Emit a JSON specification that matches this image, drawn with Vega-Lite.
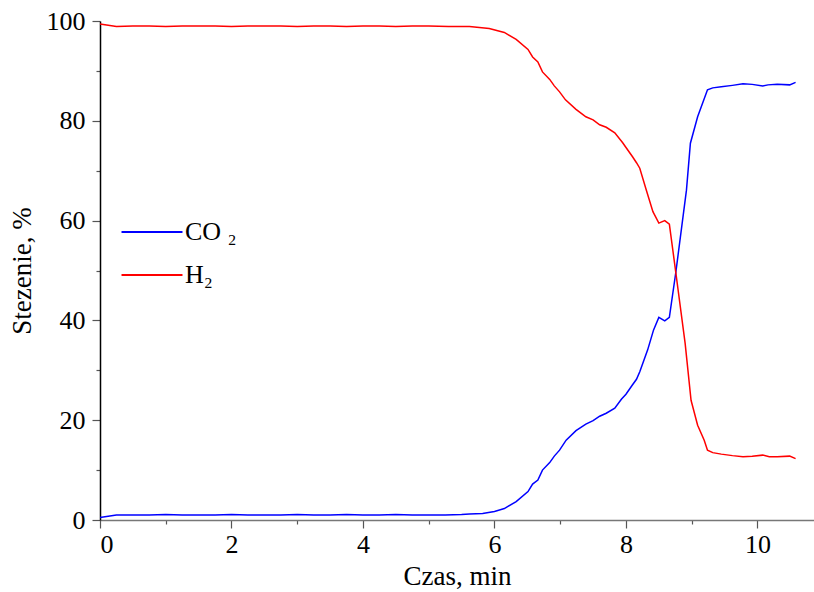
{
  "$schema": "https://vega.github.io/schema/vega-lite/v6.json",
  "width": 714,
  "height": 499,
  "autosize": {"type": "none"},
  "padding": {"left": 100, "top": 21, "right": 0, "bottom": 72},
  "background": "white",
  "config": {
    "view": {"stroke": null},
    "font": "Liberation Serif"
  },
  "datasets": {
    "series": [
      {"t": 0, "gas": "CO2", "v": 0.5}, {"t": 0.25, "gas": "CO2", "v": 1.0}, {"t": 0.5, "gas": "CO2", "v": 1.0}, {"t": 0.75, "gas": "CO2", "v": 1.0}, {"t": 1.0, "gas": "CO2", "v": 1.1}, {"t": 1.25, "gas": "CO2", "v": 1.0}, {"t": 1.5, "gas": "CO2", "v": 1.0}, {"t": 1.75, "gas": "CO2", "v": 1.0}, {"t": 2.0, "gas": "CO2", "v": 1.1}, {"t": 2.25, "gas": "CO2", "v": 1.0}, {"t": 2.5, "gas": "CO2", "v": 1.0}, {"t": 2.75, "gas": "CO2", "v": 1.0}, {"t": 3.0, "gas": "CO2", "v": 1.1}, {"t": 3.25, "gas": "CO2", "v": 1.0}, {"t": 3.5, "gas": "CO2", "v": 1.0}, {"t": 3.75, "gas": "CO2", "v": 1.1}, {"t": 4.0, "gas": "CO2", "v": 1.0}, {"t": 4.25, "gas": "CO2", "v": 1.0}, {"t": 4.5, "gas": "CO2", "v": 1.1}, {"t": 4.75, "gas": "CO2", "v": 1.0}, {"t": 5.0, "gas": "CO2", "v": 1.0}, {"t": 5.25, "gas": "CO2", "v": 1.0}, {"t": 5.5, "gas": "CO2", "v": 1.1}, {"t": 5.62, "gas": "CO2", "v": 1.2}, {"t": 5.82, "gas": "CO2", "v": 1.3}, {"t": 6.0, "gas": "CO2", "v": 1.7}, {"t": 6.15, "gas": "CO2", "v": 2.3}, {"t": 6.33, "gas": "CO2", "v": 3.7}, {"t": 6.51, "gas": "CO2", "v": 5.7}, {"t": 6.58, "gas": "CO2", "v": 7.2}, {"t": 6.66, "gas": "CO2", "v": 8.0}, {"t": 6.73, "gas": "CO2", "v": 10.0}, {"t": 6.84, "gas": "CO2", "v": 11.5}, {"t": 6.91, "gas": "CO2", "v": 12.8}, {"t": 6.99, "gas": "CO2", "v": 14.0}, {"t": 7.09, "gas": "CO2", "v": 16.0}, {"t": 7.24, "gas": "CO2", "v": 17.9}, {"t": 7.39, "gas": "CO2", "v": 19.2}, {"t": 7.5, "gas": "CO2", "v": 19.9}, {"t": 7.6, "gas": "CO2", "v": 20.8}, {"t": 7.7, "gas": "CO2", "v": 21.4}, {"t": 7.83, "gas": "CO2", "v": 22.4}, {"t": 7.93, "gas": "CO2", "v": 24.2}, {"t": 8.0, "gas": "CO2", "v": 25.2}, {"t": 8.1, "gas": "CO2", "v": 27.1}, {"t": 8.16, "gas": "CO2", "v": 28.2}, {"t": 8.21, "gas": "CO2", "v": 29.7}, {"t": 8.33, "gas": "CO2", "v": 34.1}, {"t": 8.42, "gas": "CO2", "v": 38.1}, {"t": 8.5, "gas": "CO2", "v": 40.6}, {"t": 8.59, "gas": "CO2", "v": 39.9}, {"t": 8.66, "gas": "CO2", "v": 40.6}, {"t": 8.76, "gas": "CO2", "v": 49.8}, {"t": 8.92, "gas": "CO2", "v": 66.1}, {"t": 8.98, "gas": "CO2", "v": 75.5}, {"t": 9.09, "gas": "CO2", "v": 80.8}, {"t": 9.24, "gas": "CO2", "v": 86.2}, {"t": 9.32, "gas": "CO2", "v": 86.6}, {"t": 9.45, "gas": "CO2", "v": 86.8}, {"t": 9.62, "gas": "CO2", "v": 87.1}, {"t": 9.78, "gas": "CO2", "v": 87.4}, {"t": 9.92, "gas": "CO2", "v": 87.3}, {"t": 10.08, "gas": "CO2", "v": 87.0}, {"t": 10.16, "gas": "CO2", "v": 87.2}, {"t": 10.3, "gas": "CO2", "v": 87.3}, {"t": 10.49, "gas": "CO2", "v": 87.2}, {"t": 10.58, "gas": "CO2", "v": 87.7},
      {"t": 0, "gas": "H2", "v": 99.4}, {"t": 0.25, "gas": "H2", "v": 98.9}, {"t": 0.5, "gas": "H2", "v": 99.0}, {"t": 0.75, "gas": "H2", "v": 99.0}, {"t": 1.0, "gas": "H2", "v": 98.9}, {"t": 1.25, "gas": "H2", "v": 99.0}, {"t": 1.5, "gas": "H2", "v": 99.0}, {"t": 1.75, "gas": "H2", "v": 99.0}, {"t": 2.0, "gas": "H2", "v": 98.9}, {"t": 2.25, "gas": "H2", "v": 99.0}, {"t": 2.5, "gas": "H2", "v": 99.0}, {"t": 2.75, "gas": "H2", "v": 99.0}, {"t": 3.0, "gas": "H2", "v": 98.9}, {"t": 3.25, "gas": "H2", "v": 99.0}, {"t": 3.5, "gas": "H2", "v": 99.0}, {"t": 3.75, "gas": "H2", "v": 98.9}, {"t": 4.0, "gas": "H2", "v": 99.0}, {"t": 4.25, "gas": "H2", "v": 99.0}, {"t": 4.5, "gas": "H2", "v": 98.9}, {"t": 4.75, "gas": "H2", "v": 99.0}, {"t": 5.0, "gas": "H2", "v": 99.0}, {"t": 5.3, "gas": "H2", "v": 98.9}, {"t": 5.62, "gas": "H2", "v": 98.9}, {"t": 5.92, "gas": "H2", "v": 98.5}, {"t": 6.15, "gas": "H2", "v": 97.7}, {"t": 6.33, "gas": "H2", "v": 96.3}, {"t": 6.51, "gas": "H2", "v": 94.3}, {"t": 6.58, "gas": "H2", "v": 92.8}, {"t": 6.66, "gas": "H2", "v": 91.8}, {"t": 6.73, "gas": "H2", "v": 89.8}, {"t": 6.84, "gas": "H2", "v": 88.3}, {"t": 6.91, "gas": "H2", "v": 87.0}, {"t": 6.99, "gas": "H2", "v": 85.8}, {"t": 7.08, "gas": "H2", "v": 84.2}, {"t": 7.24, "gas": "H2", "v": 82.3}, {"t": 7.39, "gas": "H2", "v": 80.8}, {"t": 7.5, "gas": "H2", "v": 80.2}, {"t": 7.6, "gas": "H2", "v": 79.2}, {"t": 7.7, "gas": "H2", "v": 78.7}, {"t": 7.83, "gas": "H2", "v": 77.6}, {"t": 7.95, "gas": "H2", "v": 75.6}, {"t": 8.03, "gas": "H2", "v": 74.1}, {"t": 8.1, "gas": "H2", "v": 72.8}, {"t": 8.16, "gas": "H2", "v": 71.6}, {"t": 8.21, "gas": "H2", "v": 70.5}, {"t": 8.31, "gas": "H2", "v": 66.1}, {"t": 8.41, "gas": "H2", "v": 61.8}, {"t": 8.5, "gas": "H2", "v": 59.5}, {"t": 8.59, "gas": "H2", "v": 60.0}, {"t": 8.66, "gas": "H2", "v": 59.3}, {"t": 8.76, "gas": "H2", "v": 49.4}, {"t": 8.9, "gas": "H2", "v": 35.4}, {"t": 8.99, "gas": "H2", "v": 24.0}, {"t": 9.09, "gas": "H2", "v": 19.0}, {"t": 9.19, "gas": "H2", "v": 16.0}, {"t": 9.24, "gas": "H2", "v": 14.0}, {"t": 9.32, "gas": "H2", "v": 13.5}, {"t": 9.45, "gas": "H2", "v": 13.2}, {"t": 9.62, "gas": "H2", "v": 12.9}, {"t": 9.78, "gas": "H2", "v": 12.7}, {"t": 9.92, "gas": "H2", "v": 12.8}, {"t": 10.08, "gas": "H2", "v": 13.0}, {"t": 10.18, "gas": "H2", "v": 12.7}, {"t": 10.3, "gas": "H2", "v": 12.7}, {"t": 10.49, "gas": "H2", "v": 12.8}, {"t": 10.58, "gas": "H2", "v": 12.3}
    ]
  },
  "layer": [
    {
      "data": {"name": "series"},
      "mark": {"type": "line", "strokeWidth": 1.5, "interpolate": "linear"},
      "encoding": {
        "x": {
          "field": "t", "type": "quantitative",
          "scale": {"domain": [0, 10.86], "nice": false, "zero": false},
          "axis": {
            "title": "Czas, min",
            "values": [0, 1, 2, 3, 4, 5, 6, 7, 8, 9, 10],
            "labelExpr": "datum.value % 2 == 0 ? datum.label : ''",
            "tickSize": {"condition": {"test": "datum.value % 2 != 0", "value": 4}, "value": 8},
            "grid": false,
            "domainColor": "#777777", "domainWidth": 1.5,
            "tickColor": "#555555", "tickWidth": 1.2,
            "labelFont": "Liberation Serif", "labelFontSize": 26, "labelColor": "black", "labelPadding": 3,
            "titleFont": "Liberation Serif", "titleFontSize": 27, "titleFontWeight": "normal", "titleColor": "black", "titlePadding": 6
          }
        },
        "y": {
          "field": "v", "type": "quantitative",
          "scale": {"domain": [0, 100], "nice": false},
          "axis": {
            "title": "Stezenie, %",
            "values": [0, 10, 20, 30, 40, 50, 60, 70, 80, 90, 100],
            "labelExpr": "datum.value % 20 == 0 ? datum.label : ''",
            "tickSize": {"condition": {"test": "datum.value % 20 != 0", "value": 4}, "value": 8},
            "grid": false,
            "domainColor": "black", "domainWidth": 1.5,
            "tickColor": "#555555", "tickWidth": 1.2,
            "labelFont": "Liberation Serif", "labelFontSize": 26, "labelColor": "black", "labelPadding": 7,
            "titleFont": "Liberation Serif", "titleFontSize": 27, "titleFontWeight": "normal", "titleColor": "black", "titlePadding": 10
          }
        },
        "color": {
          "field": "gas", "type": "nominal",
          "scale": {"domain": ["CO2", "H2"], "range": ["#0000FF", "#FF0000"]},
          "legend": {
            "title": null,
            "orient": "none",
            "legendX": 39,
            "legendY": 198,
            "padding": 0,
            "symbolType": "M-3,0H3",
            "symbolSize": 413,
            "symbolStrokeWidth": 2,
            "labelFont": "Liberation Serif",
            "labelFontSize": 26,
            "labelColor": "black",
            "labelOffset": 20,
            "rowPadding": 17,
            "labelExpr": "datum.value == 'CO2' ? 'CO ₂' : ' H₂'"
          }
        }
      }
    },
    {
      "mark": {"type": "rule", "color": "black", "strokeWidth": 1.5},
      "encoding": {"y": {"datum": 100}}
    }
  ]
}
